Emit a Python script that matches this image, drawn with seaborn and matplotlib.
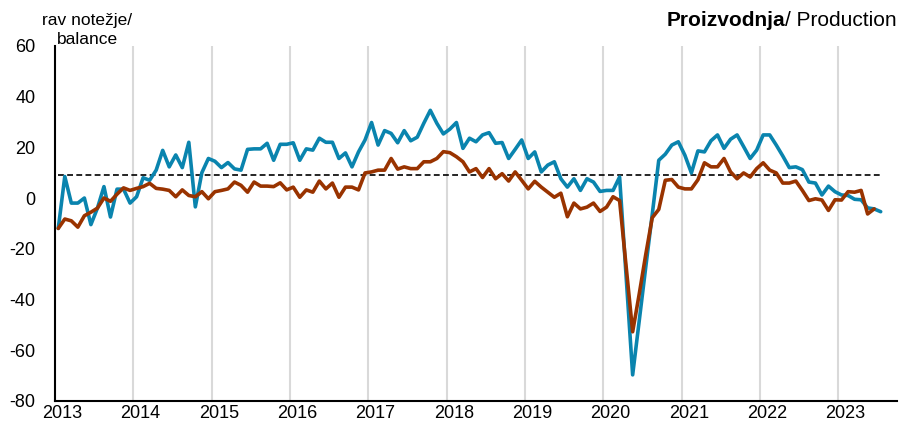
import matplotlib
matplotlib.use("Agg")
import matplotlib.pyplot as plt
import numpy as np
import pandas as pd
import seaborn as sns

# monthly balances, Jan 2013 onwards
production = [
    -12, 8.5, -2, -2, 0, -10.5, -4, 4.5, -7.5, 3.5, 3.5, -2,
    0.5, 8, 7, 11, 18.8, 12.3, 17, 12, 22, -3.5, 10, 15.6,
    14.5, 12, 14, 11.5, 11, 19.2, 19.4, 19.4, 21.6, 14.9, 21.2, 21.2,
    21.8, 14.9, 19.4, 18.9, 23.6, 22, 22, 15.6, 17.8, 12.3, 18.2, 22.9,
    29.8, 20.9, 26.6, 25.5, 21.8, 26.6, 22.6, 24, 29.5, 34.6, 29.5, 25.3,
    27.2, 29.8, 19.6, 23.6, 22.2, 24.9, 25.8, 21.6, 21.9, 15.6, 19.2, 22.9,
    15.6, 18.2, 10.3, 13, 14.3, 7.6, 4.3, 7.6, 3, 7.6, 6.3, 2.6,
    3, 3, 8.3, -31, -69.8, -48.6, -27.4, -6.5, 14.9, 17.3, 20.9, 22.2,
    16.9, 9.9, 18.6, 18.2, 22.6, 24.9, 19.6, 23.2, 24.9, 20.3, 15.6, 18.9,
    24.9, 24.9, 20.9, 16.6, 12, 12.3, 11.2, 6.3, 5.9, 1.2, 4.7, 2.5,
    1.2, 1, -0.5, -0.7, -3.9, -4.3, -5.4,
]
second = [
    -12, -8.3, -9, -11.5, -7, -5.6, -4, 0, -1.3, 1.5, 4, 3,
    3.8, 4.5, 5.8, 3.8, 3.5, 3, 0.5, 3.2, 1, 0.5, 2.5, -0.3,
    2.5, 3, 3.6, 6.3, 5, 2.3, 6.3, 4.7, 4.7, 4.5, 6, 3.2,
    4.3, 0.3, 3.2, 2.3, 6.7, 3.6, 5.9, 0.3, 4.3, 4.3, 3.2, 9.9,
    10.3, 11, 11, 15.6, 11.4, 12.3, 11.6, 11.6, 14.3, 14.3, 15.6, 18.3,
    17.9, 16.3, 14.3, 10.3, 11.6, 8.1, 11.6, 7.6, 9.6, 6.7, 10.3, 7,
    3.6, 6.6, 4.3, 2.3, 0.3, 1.9, -7.4, -2, -4.3, -3.6, -2, -5.3,
    -3.6, 0.5, -1, -27, -52.8, -38, -22.4, -7.8, -4.5, 7, 7.3, 4.3,
    3.6, 3.6, 7.2, 13.9, 12.3, 12.3, 15.6, 10.3, 7.6, 9.9, 8.3, 11.6,
    13.9, 11, 9.9, 5.9, 5.9, 6.7, 3, -1, -0.3, -0.8, -4.9, -0.7,
    -0.8, 2.5, 2.3, 3, -6.3, -4.3,
]
long_term_avg = 9.0
years = list(range(2013, 2024))

blue = "#0a84ae"
brown = "#993300"

sns.set_style("white")
plt.rcParams["font.family"] = ["Liberation Sans", "DejaVu Sans"]
plt.rcParams["axes.unicode_minus"] = False
plt.rcParams["text.color"] = "black"
plt.rcParams["xtick.color"] = "black"
plt.rcParams["ytick.color"] = "black"

df_a = pd.DataFrame({"month": np.arange(len(production)), "value": production})
df_b = pd.DataFrame({"month": np.arange(len(second)), "value": second})

fig = plt.figure(figsize=(9.12, 4.22), dpi=100)
ax = fig.add_axes([55 / 912, 1 - 400.7 / 422, 842 / 912, 354.7 / 422])

# year gridlines at month boundaries
for k in range(1, len(years)):
    ax.axvline(12 * k - 0.5, color="#d9d9d9", lw=1.5, zorder=0)

ax.hlines(long_term_avg, 0, len(production) - 1, colors="black",
          linestyles=(0, (3.5, 2)), lw=1.2, zorder=1)
sns.lineplot(data=df_a, x="month", y="value", color=blue, lw=2.6, ax=ax, zorder=2)
sns.lineplot(data=df_b, x="month", y="value", color=brown, lw=2.6, ax=ax, zorder=3)

ax.set_xlim(-0.5, 128.5)
ax.set_ylim(-80, 60)
ax.set_yticks(range(-80, 61, 20))
ax.set_xticks([12 * k - 0.5 for k in range(len(years))])
ax.set_xticklabels([])
ax.set_xticks([12 * k + 0.6 for k in range(len(years))], minor=True)
ax.set_xticklabels([str(y) for y in years], minor=True)
ax.tick_params(axis="y", direction="out", length=3, width=1.5, pad=11, labelsize=13)
ax.tick_params(axis="x", which="major", direction="out", length=3, width=1.5)
ax.tick_params(axis="x", which="minor", length=0, pad=3, labelsize=13)
ax.set_xlabel("")
ax.set_ylabel("")

sns.despine(ax=ax)
for side in ("left", "bottom"):
    ax.spines[side].set_linewidth(1.5)
    ax.spines[side].set_color("black")

fig.text(87 / 912, 1 - 20 / 422, "rav notežje/", ha="center", va="center", fontsize=12.5)
fig.text(87 / 912, 1 - 39 / 422, "balance", ha="center", va="center", fontsize=12.5)

t = fig.text(897 / 912, 1 - 21 / 422, "/ Production", ha="right", va="center", fontsize=15)
ax.annotate("Proizvodnja", xy=(0, 0.5), xycoords=t, ha="right", va="center",
            fontsize=15, fontweight="bold")

fig.savefig("out.png", dpi=100)
